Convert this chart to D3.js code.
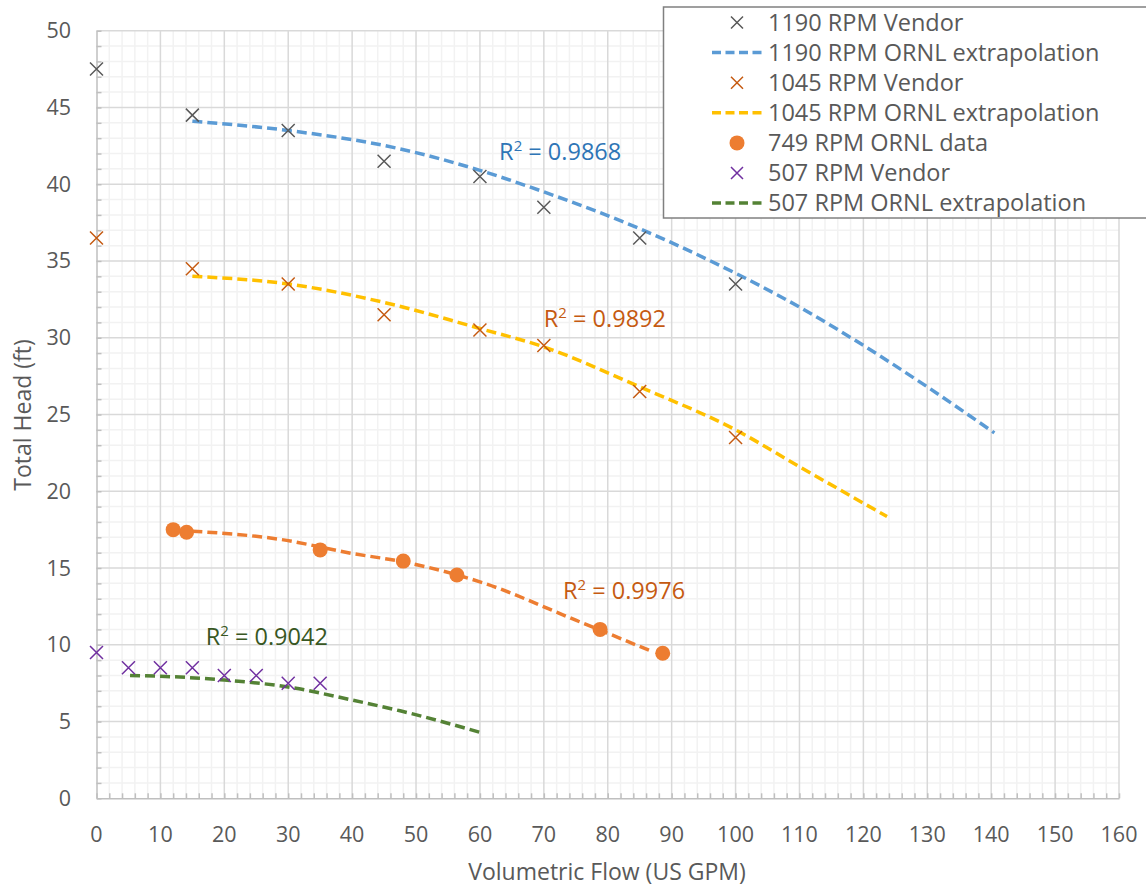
<!DOCTYPE html>
<html>
<head>
<meta charset="utf-8">
<script src="https://cdn.jsdelivr.net/npm/d3@7"></script>
<style>
  body { margin: 0; background: #fff; }
  text { font-family: "Open Sans", "Noto Sans", sans-serif; }
</style>
</head>
<body>
<script>
// vendor points
const vendor1190 = [[0,47.5],[15,44.5],[30,43.5],[45,41.5],[60,40.5],[70,38.5],[85,36.5],[100,33.5]]
const vendor1045 = [[0,36.5],[15,34.5],[30,33.5],[45,31.5],[60,30.5],[70,29.5],[85,26.5],[100,23.5]]
const vendor507 = [[0,9.5],[5,8.5],[10,8.5],[15,8.5],[20,8],[25,8],[30,7.5],[35,7.5]]
// measured points
const ornl749 = [[12,17.5],[14.1,17.33],[35,16.18],[48,15.45],[56.4,14.55],[78.8,11.0],[88.6,9.45]]

// trendlines
const trend1190 = [[15,44.1],[30,43.5],[47.5,42.3],[60,40.9],[70,39.5],[85,37.1],[100,34.2],[110,32.0],[120,29.5],[130,26.8],[140.5,23.8]]
const trend1045 = [[15,34.0],[30,33.5],[45,32.3],[60,30.6],[70,29.4],[85,26.8],[100,24.0],[110,21.6],[123.7,18.35]]
const trend749 = [[15,17.4],[29,16.85],[40,15.95],[48,15.4],[56,14.6],[60,14.1],[75,11.6],[87,9.55]]
const trend507 = [[5.25,8.0],[10,7.95],[20,7.7],[30,7.25],[40,6.4],[47.5,5.7],[60,4.3]]

const xTickValues = [0,10,20,30,40,50,60,70,80,90,100,110,120,130,140,150,160]
const yTickValues = [0,5,10,15,20,25,30,35,40,45,50]

const r2Labels = [
  {value:"0.9868", x:63, y:41.6, color:"#2E75B6"},
  {value:"0.9892", x:70, y:30.7, color:"#C55A11"},
  {value:"0.9976", x:73, y:12.95, color:"#C55A11"},
  {value:"0.9042", x:17.1, y:10.0, color:"#385723"}
]

const legendItems = [
  {label:"1190 RPM Vendor", type:"x", color:"#595959"},
  {label:"1190 RPM ORNL extrapolation", type:"line", color:"#5B9BD5"},
  {label:"1045 RPM Vendor", type:"x", color:"#C55A11"},
  {label:"1045 RPM ORNL extrapolation", type:"line", color:"#FFC000"},
  {label:"749 RPM ORNL data", type:"dot", color:"#ED7D31"},
  {label:"507 RPM Vendor", type:"x", color:"#7030A0"},
  {label:"507 RPM ORNL extrapolation", type:"line", color:"#548235"}
]

const width = 1146
const height = 886
const plotLeft = 96.5, plotRight = 1119, plotTop = 30.7, plotBottom = 798.3

const x = d3.scaleLinear().domain([0,160]).range([plotLeft,plotRight])
const y = d3.scaleLinear().domain([0,50]).range([plotBottom,plotTop])

const svg = d3.select("body").append("svg")
  .attr("width",width)
  .attr("height",height)

// minor grid
svg.append("g").selectAll("line")
  .data(d3.range(0,161,2).filter(v=>v%10!=0))
  .enter().append("line")
  .attr("x1",d=>x(d)).attr("x2",d=>x(d))
  .attr("y1",plotTop).attr("y2",plotBottom)
  .attr("stroke","#F2F2F2").attr("stroke-width",1.5)
svg.append("g").selectAll("line")
  .data(d3.range(0,51,1).filter(v=>v%5!=0))
  .enter().append("line")
  .attr("y1",d=>y(d)).attr("y2",d=>y(d))
  .attr("x1",plotLeft).attr("x2",plotRight)
  .attr("stroke","#F2F2F2").attr("stroke-width",1.5)

// major grid
svg.append("g").selectAll("line")
  .data(xTickValues.slice(1))
  .enter().append("line")
  .attr("x1",d=>x(d)).attr("x2",d=>x(d))
  .attr("y1",plotTop).attr("y2",plotBottom)
  .attr("stroke","#D9D9D9").attr("stroke-width",1.5)
svg.append("g").selectAll("line")
  .data(yTickValues.slice(1))
  .enter().append("line")
  .attr("y1",d=>y(d)).attr("y2",d=>y(d))
  .attr("x1",plotLeft).attr("x2",plotRight)
  .attr("stroke","#D9D9D9").attr("stroke-width",1.5)

// axes
var xAxis = d3.axisBottom(x)
  .tickValues(d3.range(0,161,2))
  .tickSizeInner(-5).tickSizeOuter(0)
  .tickFormat("")
svg.append("g")
  .attr("transform","translate(0,"+plotBottom+")")
  .call(xAxis)
  .call(g=>g.selectAll("line,path").attr("stroke","#BFBFBF").attr("stroke-width",1.5))

var yAxis = d3.axisLeft(y)
  .tickValues(d3.range(0,51,1))
  .tickSizeInner(-5).tickSizeOuter(0)
  .tickFormat("")
svg.append("g")
  .attr("transform","translate("+plotLeft+",0)")
  .call(yAxis)
  .call(g=>g.selectAll("line,path").attr("stroke","#BFBFBF").attr("stroke-width",1.5))

// tick labels
svg.append("g").selectAll("text")
  .data(xTickValues)
  .enter().append("text")
  .attr("x",d=>x(d)).attr("y",plotBottom+44)
  .attr("text-anchor","middle")
  .attr("font-size",21.5).attr("fill","#595959")
  .text(d=>d)
svg.append("g").selectAll("text")
  .data(yTickValues)
  .enter().append("text")
  .attr("x",71).attr("y",d=>y(d)+7.5)
  .attr("text-anchor","end")
  .attr("font-size",21.5).attr("fill","#595959")
  .text(d=>d)

// axis titles
svg.append("text")
  .attr("x",607).attr("y",880)
  .attr("text-anchor","middle")
  .attr("font-size",23).attr("fill","#595959")
  .text("Volumetric Flow (US GPM)")
svg.append("text")
  .attr("transform","translate(31,415) rotate(-90)")
  .attr("text-anchor","middle")
  .attr("font-size",23).attr("fill","#595959")
  .text("Total Head (ft)")

// trendlines
const line = d3.line()
  .x(d=>x(d[0])).y(d=>y(d[1]))
  .curve(d3.curveMonotoneX)

const trends = [
  {data:trend1190, color:"#5B9BD5"},
  {data:trend1045, color:"#FFC000"},
  {data:trend749, color:"#ED7D31"},
  {data:trend507, color:"#548235"}
]
svg.append("g").selectAll("path")
  .data(trends)
  .enter().append("path")
  .attr("d",d=>line(d.data))
  .attr("fill","none")
  .attr("stroke",d=>d.color)
  .attr("stroke-width",3.5)
  .attr("stroke-dasharray","10,5")

// x markers
const xMark = "M-6.5,-6.5L6.5,6.5M-6.5,6.5L6.5,-6.5"
const vendorSets = [
  {data:vendor1190, color:"#595959"},
  {data:vendor1045, color:"#C55A11"},
  {data:vendor507, color:"#7030A0"}
]
vendorSets.forEach(s=>{
  svg.append("g").selectAll("path")
    .data(s.data)
    .enter().append("path")
    .attr("d",xMark)
    .attr("transform",d=>"translate("+x(d[0])+","+y(d[1])+")")
    .attr("fill","none")
    .attr("stroke",s.color)
    .attr("stroke-width",1.5)
})

svg.append("g").selectAll("circle")
  .data(ornl749)
  .enter().append("circle")
  .attr("cx",d=>x(d[0])).attr("cy",d=>y(d[1]))
  .attr("r",7.5)
  .attr("fill","#ED7D31")

// R squared labels
var r2 = svg.append("g").selectAll("text")
  .data(r2Labels)
  .enter().append("text")
  .attr("x",d=>x(d.x)).attr("y",d=>y(d.y))
  .attr("font-size",23.5)
  .attr("fill",d=>d.color)
r2.append("tspan").text("R")
r2.append("tspan").attr("dy",-9).attr("font-size",15).text("2")
r2.append("tspan").attr("dy",9).text(d=>" = "+d.value)

// legend
const legend = svg.append("g")
legend.append("rect")
  .attr("x",663.5).attr("y",7).attr("width",490).attr("height",211)
  .attr("fill","#fff").attr("stroke","#808080").attr("stroke-width",1.5)

var rows = legend.selectAll("g.row")
  .data(legendItems)
  .enter().append("g")
  .attr("class","row")
  .attr("transform",(d,i)=>"translate(0,"+(22.5+i*30.1)+")")

rows.append("text")
  .attr("x",768).attr("y",8.3)
  .attr("font-size",23.5).attr("fill","#595959")
  .text(d=>d.label)

rows.filter(d=>d.type=="x").append("path")
  .attr("d","M-6,-6L6,6M-6,6L6,-6")
  .attr("transform","translate(737,0)")
  .attr("fill","none")
  .attr("stroke",d=>d.color)
  .attr("stroke-width",1.5)
rows.filter(d=>d.type=="line").append("line")
  .attr("x1",712).attr("x2",764)
  .attr("stroke",d=>d.color)
  .attr("stroke-width",3.5)
  .attr("stroke-dasharray","9,4.5")
rows.filter(d=>d.type=="dot").append("circle")
  .attr("cx",737).attr("r",7.5)
  .attr("fill",d=>d.color)
</script>
</body>
</html>
